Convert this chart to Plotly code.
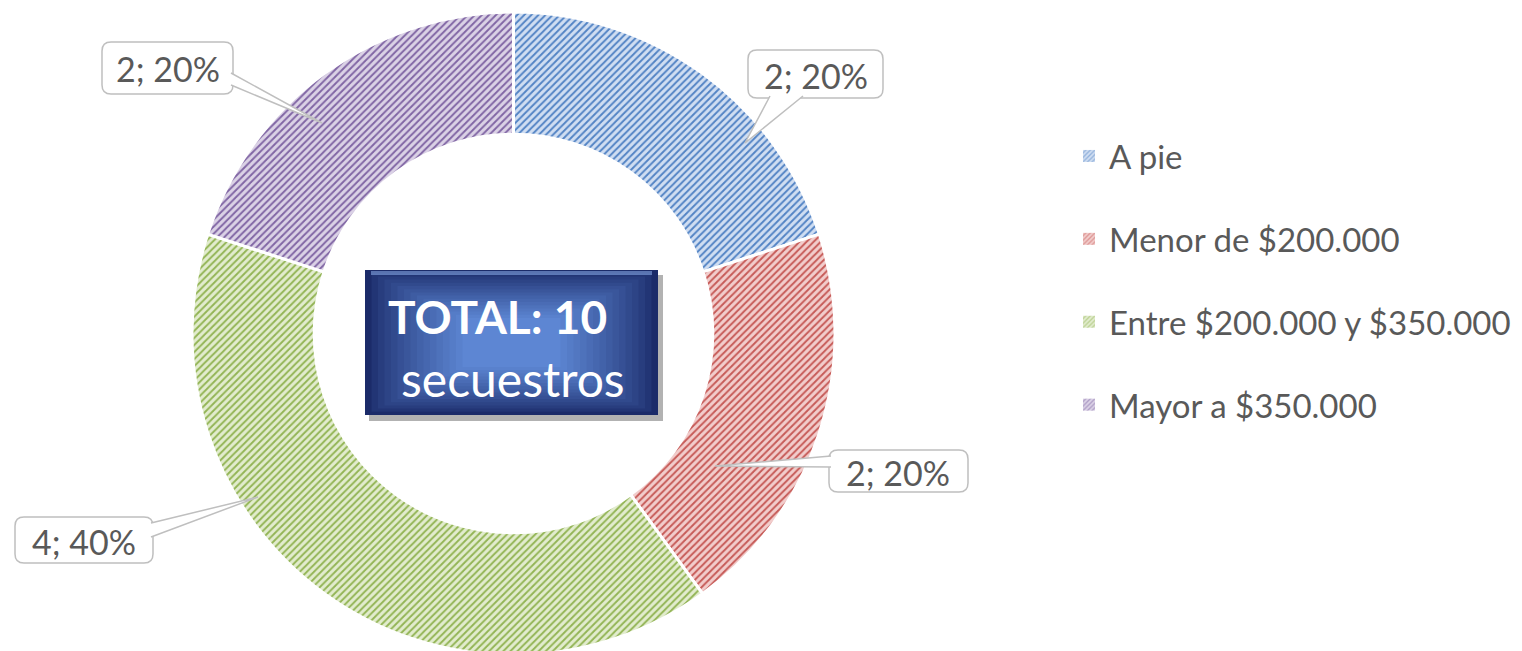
import plotly.graph_objects as go

# ---- data ----
categories = ["A pie", "Menor de $200.000", "Entre $200.000 y $350.000", "Mayor a $350.000"]
values = [2, 2, 4, 2]
total_label = "TOTAL: 10"
total_sub = "secuestros"

# ---- styles ----
bg_colors = ["#d0def2", "#f2cdcc", "#e2ecce", "#dbd2e6"]
fg_colors = ["#5283c4", "#c65a57", "#92b454", "#8065a4"]
text_color = "#595959"
FONT = "Lato"

# page offset (body margin) compensation: positions below are page pixels
OFF = 8
W, H = 1514, 651
def px(x):
    return (x - OFF) / W
def py(y):
    return 1 - (y - OFF) / H

total = sum(values)
pie_text = [f"{v}; {round(100 * v / total)}%" for v in values]

fig = go.Figure()
fig.add_trace(go.Pie(
    labels=categories, values=values, sort=False, direction="clockwise", rotation=0,
    hole=0.62, textinfo="none", hoverinfo="label+value+percent", showlegend=False,
    marker=dict(colors=bg_colors, line=dict(color="white", width=3),
                pattern=dict(shape="/", fgcolor=fg_colors, bgcolor=bg_colors,
                             size=5, solidity=0.38)),
    domain=dict(x=[px(192), px(835)], y=[py(655), py(12)]),
))

# legend-only entries (patterned squares)
for c, bgc, fgc in zip(categories, bg_colors, fg_colors):
    fig.add_trace(go.Bar(
        x=[None], y=[None], name=c, legendgroup=c, showlegend=True,
        marker=dict(color=bgc, line=dict(width=0),
                    pattern=dict(shape="/", fgcolor=fgc, bgcolor=bgc, size=4, solidity=0.4)),
    ))

# callout layout: box (x0, y0, x1, y1), tip, wedge base points (page pixels)
callouts = [
    dict(box=(748, 50, 883, 98), tip=(745, 143), base=((770, 96), (803, 96))),
    dict(box=(829, 450, 968, 492), tip=(715, 466), base=((831, 456), (831, 467))),
    dict(box=(15, 517, 153, 563), tip=(258, 497), base=((151, 523), (151, 537))),
    dict(box=(102, 42, 233, 94), tip=(322, 123), base=((231, 73), (231, 85))),
]

def rounded_rect(x0, y0, x1, y1, r=9):
    X = lambda v: f"{px(v):.6f}"
    Y = lambda v: f"{py(v):.6f}"
    return (f"M {X(x0 + r)},{Y(y0)} L {X(x1 - r)},{Y(y0)} Q {X(x1)},{Y(y0)} {X(x1)},{Y(y0 + r)} "
            f"L {X(x1)},{Y(y1 - r)} Q {X(x1)},{Y(y1)} {X(x1 - r)},{Y(y1)} "
            f"L {X(x0 + r)},{Y(y1)} Q {X(x0)},{Y(y1)} {X(x0)},{Y(y1 - r)} "
            f"L {X(x0)},{Y(y0 + r)} Q {X(x0)},{Y(y0)} {X(x0 + r)},{Y(y0)} Z")

shapes = []
annotations = []
for txt, c in zip(pie_text, callouts):
    x0, y0, x1, y1 = c["box"]
    shapes.append(dict(type="path", xref="paper", yref="paper", path=rounded_rect(x0, y0, x1, y1),
                       fillcolor="white", line=dict(color="#bfbfbf", width=1.5), layer="above"))
    (b1x, b1y), (b2x, b2y) = c["base"]
    tx, ty = c["tip"]
    wedge = (f"M {px(b1x):.6f},{py(b1y):.6f} L {px(tx):.6f},{py(ty):.6f} "
             f"L {px(b2x):.6f},{py(b2y):.6f}")
    shapes.append(dict(type="path", xref="paper", yref="paper", path=wedge,
                       fillcolor="white", line=dict(color="#bfbfbf", width=1.5), layer="above"))
    annotations.append(dict(
        x=px((x0 + x1) / 2), y=py((y0 + y1) / 2 + 1), xref="paper", yref="paper",
        xanchor="center", yanchor="middle", showarrow=False, text=txt,
        font=dict(family=FONT, size=34, color=text_color),
    ))

# center box with simulated gradient
bx0, by0, bx1, by1 = 365, 270, 658, 415
shapes.append(dict(type="rect", xref="paper", yref="paper",
                   x0=px(bx0 + 4), x1=px(bx1 + 5), y0=py(by1 + 6), y1=py(by0 + 5),
                   fillcolor="rgba(0,0,0,0.30)", line=dict(width=0), layer="above"))
c_out = (0x1b, 0x2b, 0x69)
c_in = (0x5d, 0x86, 0xd3)
n = 16
for i in range(n):
    t = i / (n - 1)
    t2 = t ** 0.8
    col = "rgb({},{},{})".format(*[int(a + (b - a) * t2) for a, b in zip(c_out, c_in)])
    dx = i * 6.5
    dy = i * 3.2
    shapes.append(dict(type="rect", xref="paper", yref="paper",
                       x0=px(bx0 + dx), x1=px(bx1 - dx), y0=py(by1 - dy), y1=py(by0 + dy),
                       fillcolor=col, line=dict(width=0), layer="above"))
# top bevel highlight
shapes.append(dict(type="rect", xref="paper", yref="paper",
                   x0=px(bx0 + 6), x1=px(bx1 - 6), y0=py(by0 + 5), y1=py(by0 + 1),
                   fillcolor="rgba(140,175,235,0.55)", line=dict(width=0), layer="above"))

annotations.append(dict(x=px(497), y=py(316), xref="paper", yref="paper", showarrow=False,
                        xanchor="center", yanchor="middle",
                        text=f"<b>{total_label}</b>",
                        font=dict(family=FONT, size=46, color="white")))
annotations.append(dict(x=px(513), y=py(378), xref="paper", yref="paper", showarrow=False,
                        xanchor="center", yanchor="middle",
                        text=total_sub, font=dict(family=FONT, size=48, color="white")))

fig.update_layout(
    width=W, height=H, margin=dict(l=0, r=0, t=0, b=0),
    paper_bgcolor="white", plot_bgcolor="white",
    xaxis=dict(visible=False), yaxis=dict(visible=False),
    legend=dict(x=px(1069), y=py(128), xanchor="left", yanchor="top",
                font=dict(family=FONT, size=33, color=text_color),
                tracegroupgap=37, itemwidth=30, bgcolor="rgba(0,0,0,0)"),
    shapes=shapes, annotations=annotations,
)
fig.write_html("out.html")
